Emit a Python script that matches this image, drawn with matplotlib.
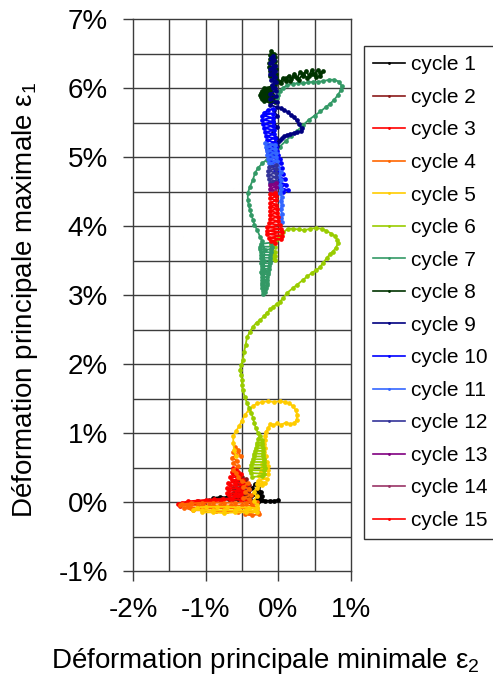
import matplotlib
matplotlib.use("Agg")
import matplotlib.pyplot as plt

plt.rcParams['font.family'] = ['Liberation Sans', 'DejaVu Sans']
plt.rcParams['mathtext.fontset'] = 'custom'
plt.rcParams['mathtext.rm'] = 'Liberation Sans'

# Principal strain paths (in %), one series per loading cycle: (eps2, eps1)
c1_x = [0.00, -0.06, -0.12, -0.18, -0.22, -0.25, -0.30, -0.35, -0.42, -0.50, -0.60, -0.70, -0.80, -0.90,
        -0.80, -0.68, -0.56, -0.48, -0.42, -0.36, -0.32, -0.28, -0.24, -0.27, -0.33, -0.38, -0.44, -0.38,
        -0.30, -0.26, -0.22, -0.26, -0.30]
c1_y = [0.03, 0.02, 0.02, 0.02, 0.03, 0.06, 0.04, 0.02, 0.03, 0.05, 0.06, 0.07, 0.07, 0.06,
        0.05, 0.05, 0.04, 0.08, 0.14, 0.20, 0.26, 0.22, 0.15, 0.10, 0.12, 0.08, 0.04, 0.00,
        -0.02, 0.02, 0.08, 0.12, 0.17]

c2_x = [-0.38, -0.50, -0.62, -0.78, -0.95, -1.10, -0.95, -0.78, -0.62, -0.45, -0.58, -0.62, -0.42, -0.40,
        -0.60, -0.63, -0.44, -0.41, -0.58, -0.60, -0.46, -0.44, -0.56, -0.50, -0.47, -0.52, -0.48, -0.52,
        -0.44]
c2_y = [0.02, 0.03, 0.04, 0.03, 0.02, 0.01, 0.03, 0.05, 0.06, 0.08, 0.10, 0.13, 0.14, 0.17,
        0.18, 0.21, 0.22, 0.25, 0.26, 0.29, 0.30, 0.33, 0.35, 0.36, 0.31, 0.24, 0.16, 0.09,
        0.05]

c3_x = [-0.40, -0.52, -0.64, -0.76, -0.88, -1.00, -1.12, -1.24, -1.33, -1.38, -1.36, -1.26, -1.14, -1.02,
        -0.90, -0.78, -0.66, -0.56, -0.68, -0.70, -0.52, -0.48, -0.68, -0.70, -0.50, -0.46, -0.66, -0.69,
        -0.52, -0.48, -0.64, -0.66, -0.54, -0.52, -0.62, -0.64, -0.56, -0.58, -0.62, -0.60, -0.57, -0.60,
        -0.56, -0.60, -0.50]
c3_y = [0.02, 0.03, 0.04, 0.04, 0.04, 0.03, 0.02, 0.01, -0.01, -0.03, -0.06, -0.03, -0.01, 0.00,
        0.01, 0.02, 0.05, 0.08, 0.10, 0.13, 0.12, 0.15, 0.17, 0.20, 0.20, 0.24, 0.24, 0.28,
        0.28, 0.32, 0.32, 0.36, 0.36, 0.40, 0.40, 0.44, 0.44, 0.48, 0.49, 0.42, 0.34, 0.26,
        0.18, 0.10, 0.06]

c4_x = [-0.30, -0.45, -0.60, -0.75, -0.90, -1.05, -1.20, -1.32, -1.36, -1.25, -1.10, -0.95, -0.80, -0.65,
        -0.50, -0.36, -0.30, -0.45, -0.60, -0.75, -0.90, -1.05, -1.20, -1.30, -1.18, -1.02, -0.86, -0.70,
        -0.55, -0.40, -0.28, -0.26, -0.36, -0.46, -0.40, -0.36, -0.40, -0.48, -0.38, -0.46, -0.40, -0.48,
        -0.42, -0.50, -0.55, -0.58, -0.62, -0.56, -0.63, -0.57, -0.64, -0.58, -0.62, -0.56, -0.60, -0.55,
        -0.52]
c4_y = [0.00, -0.01, -0.01, -0.01, -0.01, -0.01, -0.02, -0.03, -0.05, -0.05, -0.05, -0.05, -0.05, -0.05,
        -0.05, -0.05, -0.08, -0.09, -0.09, -0.09, -0.09, -0.09, -0.08, -0.08, -0.12, -0.12, -0.13, -0.13,
        -0.14, -0.15, -0.14, -0.18, -0.19, -0.18, -0.16, -0.02, 0.04, 0.06, 0.10, 0.14, 0.19, 0.22,
        0.27, 0.30, 0.36, 0.42, 0.47, 0.52, 0.56, 0.60, 0.64, 0.68, 0.72, 0.76, 0.79, 0.74,
        0.66]

c5_x = [-0.58, -0.61, -0.62, -0.62, -0.58, -0.54, -0.50, -0.46, -0.41, -0.35, -0.29, -0.22, -0.14, -0.06,
        0.02, 0.09, 0.15, 0.20, 0.24, 0.26, 0.25, 0.22, 0.16, 0.10, 0.04, -0.02, -0.07, -0.11,
        -0.14, -0.17, -0.19, -0.18, -0.20, -0.18, -0.20, -0.17, -0.20, -0.15, -0.22, -0.14, -0.22, -0.14,
        -0.24, -0.14, -0.26, -0.16, -0.28, -0.18, -0.30, -0.22, -0.30, -0.34, -0.30, -0.34, -0.30, -0.29,
        -0.40, -0.55, -0.70, -0.85, -1.00, -1.12, -1.17, -1.05, -0.90, -0.75, -0.60, -0.45, -0.32, -0.30,
        -0.45, -0.60, -0.75, -0.90, -1.05]
c5_y = [0.66, 0.76, 0.86, 0.96, 1.03, 1.10, 1.18, 1.26, 1.33, 1.39, 1.43, 1.45, 1.46, 1.45,
        1.46, 1.45, 1.43, 1.39, 1.33, 1.26, 1.19, 1.14, 1.13, 1.15, 1.12, 1.14, 1.11, 1.13,
        1.07, 1.02, 0.96, 0.90, 0.84, 0.78, 0.72, 0.66, 0.61, 0.58, 0.55, 0.52, 0.49, 0.46,
        0.43, 0.40, 0.37, 0.34, 0.31, 0.28, 0.26, 0.24, 0.20, 0.14, 0.08, 0.02, -0.04, -0.09,
        -0.08, -0.08, -0.07, -0.07, -0.07, -0.08, -0.11, -0.12, -0.12, -0.12, -0.12, -0.12, -0.12, -0.15,
        -0.15, -0.15, -0.16, -0.15, -0.15]

c6_x = [-0.36, -0.22, -0.20, -0.38, -0.39, -0.20, -0.19, -0.38, -0.37, -0.20, -0.20, -0.36, -0.35, -0.20,
        -0.21, -0.34, -0.33, -0.21, -0.21, -0.32, -0.31, -0.21, -0.22, -0.30, -0.29, -0.22, -0.23, -0.28,
        -0.25, -0.28, -0.31, -0.33, -0.35, -0.37, -0.40, -0.43, -0.46, -0.49, -0.50, -0.50, -0.51, -0.53,
        -0.51, -0.49, -0.47, -0.45, -0.43, -0.39, -0.35, -0.30, -0.25, -0.20, -0.16, -0.11, -0.07, -0.02,
        0.02, 0.07, 0.12, 0.20, 0.26, 0.34, 0.40, 0.46, 0.52, 0.57, 0.62, 0.67, 0.71, 0.75, 0.79,
        0.82, 0.81, 0.78, 0.73, 0.66, 0.60, 0.52, 0.44, 0.36, 0.28, 0.20, 0.13, 0.07, 0.02, -0.03,
        -0.06, -0.10, -0.04, -0.10, -0.04, -0.09, -0.04, -0.08, -0.05]
c6_y = [0.36, 0.38, 0.41, 0.42, 0.46, 0.46, 0.50, 0.50, 0.54, 0.54, 0.58, 0.58, 0.62, 0.62,
        0.66, 0.66, 0.70, 0.70, 0.74, 0.74, 0.78, 0.78, 0.82, 0.82, 0.86, 0.86, 0.90, 0.92,
        0.96, 1.00, 1.07, 1.14, 1.22, 1.29, 1.36, 1.43, 1.52, 1.62, 1.70, 1.77, 1.84, 1.91,
        1.98, 2.06, 2.18, 2.28, 2.39, 2.47, 2.54, 2.60, 2.64, 2.69, 2.74, 2.79, 2.83, 2.87,
        2.90, 2.96, 3.03, 3.10, 3.15, 3.22, 3.27, 3.32, 3.36, 3.40, 3.47, 3.54, 3.59, 3.63, 3.68,
        3.75, 3.80, 3.85, 3.89, 3.93, 3.96, 3.97, 3.96, 3.94, 3.95, 3.96, 3.96, 3.91, 3.85, 3.80,
        3.76, 3.72, 3.70, 3.66, 3.63, 3.60, 3.57, 3.54, 3.51]

c7_x = [-0.10, -0.24, -0.25, -0.09, -0.10, -0.25, -0.24, -0.10, -0.11, -0.24, -0.24, -0.11, -0.12, -0.23,
        -0.24, -0.12, -0.13, -0.23, -0.23, -0.13, -0.14, -0.24, -0.23, -0.14, -0.15, -0.23, -0.22, -0.15,
        -0.16, -0.23, -0.22, -0.16, -0.17, -0.22, -0.21, -0.18, -0.21, -0.19, -0.20, -0.19, -0.20, -0.19,
        -0.22, -0.25, -0.29, -0.33, -0.35, -0.37, -0.39, -0.41, -0.42, -0.42, -0.39, -0.35, -0.32, -0.28,
        -0.22, -0.16, -0.08, 0.02, 0.10, 0.18, 0.26, 0.34, 0.42, 0.50, 0.58, 0.65, 0.71, 0.77,
        0.82, 0.86, 0.87, 0.84, 0.77, 0.70, 0.62, 0.55, 0.48, 0.41, 0.34, 0.27, 0.20, 0.12,
        0.06, 0.02, 0.00, -0.02]
c7_y = [3.76, 3.74, 3.70, 3.70, 3.66, 3.66, 3.62, 3.62, 3.58, 3.58, 3.54, 3.54, 3.50, 3.50,
        3.46, 3.46, 3.42, 3.42, 3.38, 3.38, 3.34, 3.34, 3.30, 3.30, 3.26, 3.26, 3.22, 3.22,
        3.18, 3.18, 3.14, 3.14, 3.10, 3.10, 3.06, 3.04, 3.02, 3.08, 3.20, 3.35, 3.50, 3.65,
        3.78, 3.84, 3.94, 4.02, 4.09, 4.16, 4.23, 4.31, 4.38, 4.48, 4.57, 4.67, 4.77, 4.84,
        4.91, 4.96, 5.05, 5.15, 5.23, 5.31, 5.38, 5.46, 5.54, 5.60, 5.66, 5.72, 5.77, 5.83,
        5.90, 5.97, 6.03, 6.09, 6.12, 6.12, 6.10, 6.09, 6.09, 6.08, 6.07, 6.07, 6.06, 6.04,
        6.00, 5.95, 5.90, 5.85]

c8_x = [-0.04, -0.12, -0.20, -0.10, -0.22, -0.08, -0.24, -0.08, -0.25, -0.09, -0.24, -0.10, -0.23, -0.12,
        -0.20, -0.10, -0.04, 0.02, 0.06, 0.10, 0.14, 0.18, 0.22, 0.26, 0.30, 0.34, 0.38, 0.42,
        0.46, 0.50, 0.54, 0.58, 0.61, 0.58, 0.52, 0.46, 0.40, 0.34, 0.28, 0.22, 0.16, 0.10,
        0.04, -0.02, -0.03, -0.12, -0.03, -0.12, -0.03, -0.13, -0.04, -0.13, -0.04, -0.12, -0.05, -0.12,
        -0.06, -0.10, -0.08]
c8_y = [5.80, 5.79, 5.81, 5.83, 5.84, 5.86, 5.87, 5.89, 5.90, 5.92, 5.93, 5.95, 5.96, 5.98,
        6.00, 6.02, 6.05, 6.08, 6.14, 6.10, 6.18, 6.13, 6.21, 6.15, 6.23, 6.17, 6.25, 6.18,
        6.26, 6.20, 6.26, 6.22, 6.24, 6.18, 6.16, 6.20, 6.14, 6.21, 6.12, 6.17, 6.10, 6.14,
        6.07, 6.12, 6.16, 6.18, 6.21, 6.24, 6.27, 6.30, 6.33, 6.36, 6.39, 6.42, 6.45, 6.48,
        6.50, 6.53, 6.47]

c9_x = [-0.04, -0.09, -0.03, -0.10, -0.04, -0.11, -0.05, -0.11, -0.05, -0.11, -0.06, -0.10, -0.07, -0.09,
        -0.07, -0.08, -0.06, -0.07, -0.03, -0.11, -0.03, -0.11, -0.02, -0.12, -0.02, 0.03, 0.08, 0.13,
        0.17, 0.21, 0.25, 0.28, 0.32, 0.31, 0.26, 0.21, 0.16, 0.12, 0.08, 0.05, 0.02, 0.00,
        -0.06, -0.02, -0.08, -0.03, -0.07, -0.02, -0.07, -0.02, -0.06]
c9_y = [6.00, 6.04, 6.08, 6.12, 6.16, 6.20, 6.24, 6.28, 6.32, 6.36, 6.40, 6.44, 6.46, 6.38,
        6.30, 6.20, 6.10, 6.00, 5.96, 5.92, 5.88, 5.84, 5.80, 5.76, 5.72, 5.71, 5.68, 5.65,
        5.61, 5.58, 5.53, 5.48, 5.42, 5.37, 5.36, 5.35, 5.33, 5.32, 5.30, 5.27, 5.24, 5.22,
        5.20, 5.16, 5.12, 5.28, 5.36, 5.44, 5.52, 5.60, 5.68]

c10_x = [-0.07, -0.14, -0.20, -0.08, -0.22, -0.08, -0.22, -0.07, -0.21, -0.07, -0.20, -0.06, -0.18, -0.06,
         -0.17, -0.05, -0.16, -0.04, -0.16, -0.03, -0.15, -0.02, -0.14, 0.00, -0.12, 0.02, -0.10, 0.03,
         -0.08, 0.05, -0.04, 0.07, -0.02, 0.09, 0.00, 0.11, 0.02, 0.13, 0.06, 0.03, 0.00]
c10_y = [5.70, 5.68, 5.64, 5.63, 5.60, 5.57, 5.54, 5.51, 5.48, 5.45, 5.42, 5.39, 5.36, 5.33,
         5.30, 5.27, 5.24, 5.21, 5.18, 5.15, 5.12, 5.09, 5.06, 5.03, 5.00, 4.97, 4.94, 4.91,
         4.88, 4.84, 4.80, 4.76, 4.72, 4.68, 4.64, 4.60, 4.56, 4.52, 4.50, 4.60, 4.72]

c11_x = [-0.18, -0.04, -0.17, -0.04, -0.16, -0.03, -0.15, -0.03, -0.14, -0.02, -0.13, -0.02, 0.00, 0.03,
         0.01, 0.04, 0.02, 0.04, 0.02, 0.05, 0.03, 0.05, 0.03, 0.05, 0.03, 0.05]
c11_y = [5.20, 5.18, 5.15, 5.12, 5.09, 5.06, 5.03, 5.00, 4.97, 4.94, 4.91, 4.88, 4.84, 4.78,
         4.72, 4.66, 4.60, 4.54, 4.48, 4.42, 4.36, 4.30, 4.24, 4.18, 4.12, 4.06]

c12_x = [-0.03, -0.13, -0.03, -0.14, -0.03, -0.14, -0.03, -0.13, -0.03, -0.12, -0.05]
c12_y = [4.88, 4.86, 4.83, 4.80, 4.77, 4.74, 4.71, 4.68, 4.65, 4.63, 4.62]

c13_x = [-0.03, -0.11, -0.03, -0.11, -0.04, -0.10]
c13_y = [4.62, 4.60, 4.57, 4.54, 4.51, 4.49]

c14_x = [-0.04, -0.10, -0.05]
c14_y = [4.49, 4.48, 4.47]

c15_x = [-0.04, -0.11, -0.03, -0.11, -0.03, -0.11, -0.03, -0.11, -0.02, -0.11, -0.02, -0.12, -0.01, -0.12,
         0.00, -0.13, 0.02, -0.15, 0.04, -0.16, 0.05, -0.15, 0.05, -0.13, 0.03, -0.10, -0.04]
c15_y = [4.48, 4.46, 4.43, 4.40, 4.37, 4.34, 4.31, 4.28, 4.25, 4.22, 4.19, 4.16, 4.13, 4.10,
         4.07, 4.04, 4.01, 3.98, 3.96, 3.93, 3.91, 3.88, 3.86, 3.83, 3.81, 3.78, 3.76]

cycle_labels = [f"cycle {i}" for i in range(1, 16)]
cycle_colors = ['#000000', '#8B1A1A', '#FF0000', '#FF6600', '#FFCC00', '#99CC00', '#339966', '#003300',
                '#000080', '#0000FF', '#3366FF', '#333399', '#800080', '#993366', '#FF0000']
series = [(c1_x, c1_y), (c2_x, c2_y), (c3_x, c3_y), (c4_x, c4_y), (c5_x, c5_y),
          (c6_x, c6_y), (c7_x, c7_y), (c8_x, c8_y), (c9_x, c9_y), (c10_x, c10_y),
          (c11_x, c11_y), (c12_x, c12_y), (c13_x, c13_y), (c14_x, c14_y), (c15_x, c15_y)]

x_ticks = [-2, -1, 0, 1]
x_ticklabels = ['-2%', '-1%', '0%', '1%']
y_ticks = [-1, 0, 1, 2, 3, 4, 5, 6, 7]
y_ticklabels = ['-1%', '0%', '1%', '2%', '3%', '4%', '5%', '6%', '7%']
grid_x = [-1.5, -1.0, -0.5, 0.0, 0.5]
grid_y = [-0.5, 0.0, 0.5, 1.0, 1.5, 2.0, 2.5, 3.0, 3.5, 4.0, 4.5, 5.0, 5.5, 6.0, 6.5]

fig = plt.figure(figsize=(4.93, 6.79), dpi=100)
ax = fig.add_axes([133 / 493, 1 - 571 / 679, 218 / 493, 552 / 679])
ax.set_xlim(-2, 1)
ax.set_ylim(-1, 7)

grid_color = '#3c3c3c'
for gx in grid_x:
    ax.axvline(gx, color=grid_color, lw=1.0, zorder=0)
for gy in grid_y:
    ax.axhline(gy, color=grid_color, lw=1.0, zorder=0)

for (xs, ys), col, lab in zip(series, cycle_colors, cycle_labels):
    ax.plot(xs, ys, color=col, lw=1.3, marker='o', markersize=3.4, markeredgewidth=0,
            label=lab, zorder=2)

for sp in ax.spines.values():
    sp.set_color(grid_color)
    sp.set_linewidth(1.0)

ax.set_xticks(x_ticks)
ax.set_xticklabels(x_ticklabels)
ax.set_yticks(y_ticks)
ax.set_yticklabels(y_ticklabels)
ax.tick_params(axis='both', direction='out', length=7, width=1.0, color=grid_color,
               labelsize=20, labelcolor='black')
ax.tick_params(axis='x', pad=12)
ax.tick_params(axis='y', pad=11)

fig.text(265 / 493, 1 - 661 / 679, r'Déformation principale minimale $\mathregular{ε_2}$',
         ha='center', va='center', fontsize=20)
fig.text(25 / 493, 1 - 300 / 679, r'Déformation principale maximale $\mathregular{ε_1}$',
         ha='center', va='center', fontsize=20, rotation=90)

leg = fig.legend(loc='upper left', bbox_to_anchor=(364 / 493, 1 - 46 / 679),
                 bbox_transform=fig.transFigure, fontsize=15, frameon=True, fancybox=False,
                 edgecolor='black', handlelength=1.5, handletextpad=0.3, labelspacing=0.65,
                 borderpad=0.45, borderaxespad=0, numpoints=1, markerscale=0.6)
leg.get_frame().set_linewidth(1.0)
for line in leg.get_lines():
    line.set_linewidth(1.2)

fig.savefig('out.png', dpi=100)
